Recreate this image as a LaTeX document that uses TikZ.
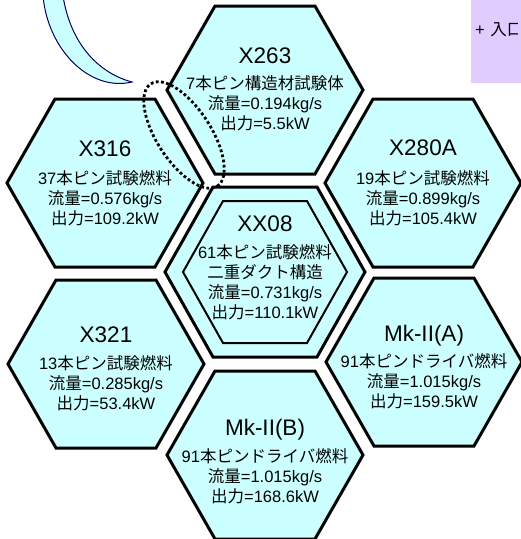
\documentclass[tikz,border=0pt]{standalone}
\usepackage{fontspec}
\setmainfont{Liberation Sans}
\newfontfamily\cjk{Noto Sans CJK JP}
\definecolor{cellcyan}{HTML}{CCFFFF}
\definecolor{boxlav}{HTML}{E1CCFF}
\definecolor{calloutline}{HTML}{000066}
\newcommand{\hexshape}[6]{%
  \draw[#1] ({#2-#4},#3) -- ({#2-#5},{#3-#6}) -- ({#2+#5},{#3-#6}) -- ({#2+#4},#3) -- ({#2+#5},{#3+#6}) -- ({#2-#5},{#3+#6}) -- cycle;}
\tikzset{
  hexcell/.style={draw=black, line width=3pt, fill=cellcyan, line join=miter},
  hexinner/.style={draw=black, line width=2pt, fill=cellcyan, line join=miter},
  celltitle/.style={font=\fontsize{22.5}{27}\selectfont, inner sep=0pt, anchor=base},
  celltext/.style={font=\fontsize{16.5}{20}\selectfont, align=center, inner sep=0pt},
  callout/.style={draw=calloutline, line width=1pt, fill=cellcyan},
  gapmark/.style={draw=black, line width=2.8pt, dash pattern=on 2.8pt off 2.4pt},
}
\begin{document}
\begin{tikzpicture}[x=1pt,y=-1pt]
\useasboundingbox (0,0) rectangle (521,539);
% purple box (cut by the page edge)
\fill[boxlav] (471,-5) rectangle (530,83);
\begin{scope}
\clip (460,0) rectangle (517.5,83);
\node[font=\fontsize{16.5}{20}\selectfont, anchor=west, inner sep=0pt] (entry) at (475,30) {+\hspace{5.5pt}{\cjk 入口}};
\end{scope}
% callout tail
\draw[callout] (43,-4) .. controls (48,50) and (90,92) .. (132,82)
  .. controls (95,72) and (70,40) .. (63,-4) -- cycle;
% hexagons
\hexshape{hexcell}{265}{90}{98}{50}{84}
\hexshape{hexcell}{105}{183}{98}{50}{84}
\hexshape{hexcell}{423}{183}{98}{50}{84}
\hexshape{hexcell}{265}{272}{100}{52}{85}
\hexshape{hexinner}{265}{272}{82}{42}{71}
\hexshape{hexcell}{106}{364}{98}{50}{84}
\hexshape{hexcell}{424}{362}{98}{50}{84}
\hexshape{hexcell}{265}{455}{98}{50}{84}
% texts
\node[celltitle] (t263) at (265,63) {X263};
\node[celltext] (s263) at (265,103) {7{\cjk 本ピン構造材試験体}\\{\cjk 流量}=0.194kg/s\\{\cjk 出力}=5.5kW};
\node[celltitle] (t316) at (105,156) {X316};
\node[celltext] (s316) at (105,198) {37{\cjk 本ピン試験燃料}\\{\cjk 流量}=0.576kg/s\\{\cjk 出力}=109.2kW};
\node[celltitle] (t280) at (423,155.5) {X280A};
\node[celltext] (s280) at (423,198) {19{\cjk 本ピン試験燃料}\\{\cjk 流量}=0.899kg/s\\{\cjk 出力}=105.4kW};
\node[celltitle] (t08) at (265,231.5) {XX08};
\node[celltext] (s08) at (265,282) {61{\cjk 本ピン試験燃料}\\{\cjk 二重ダクト構造}\\{\cjk 流量}=0.731kg/s\\{\cjk 出力}=110.1kW};
\node[celltitle] (t321) at (106,342.5) {X321};
\node[celltext] (s321) at (106,383) {13{\cjk 本ピン試験燃料}\\{\cjk 流量}=0.285kg/s\\{\cjk 出力}=53.4kW};
\node[celltitle] (tA) at (424,341) {Mk-II(A)};
\node[celltext] (sA) at (424,381) {91{\cjk 本ピンドライバ燃料}\\{\cjk 流量}=1.015kg/s\\{\cjk 出力}=159.5kW};
\node[celltitle] (tB) at (265,435) {Mk-II(B)};
\node[celltext] (sB) at (265,476) {91{\cjk 本ピンドライバ燃料}\\{\cjk 流量}=1.015kg/s\\{\cjk 出力}=168.6kW};
% dotted ellipse around the gap
\draw[gapmark, rotate around={-57:(184,135)}] (184,135) ellipse [x radius=61pt, y radius=27pt];
\end{tikzpicture}
\end{document}
